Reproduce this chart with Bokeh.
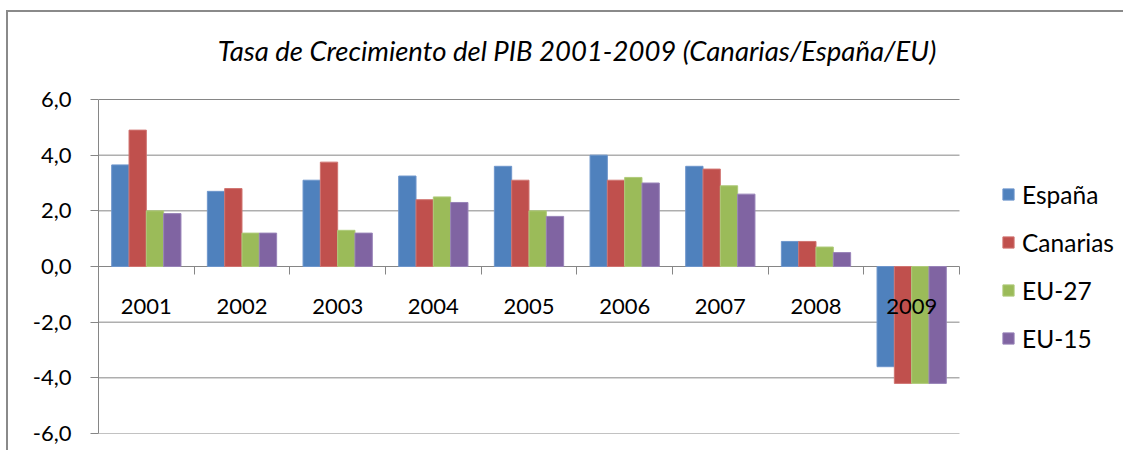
import numpy as np
from bokeh.plotting import figure
from bokeh.models import (ColumnDataSource, Range1d, FixedTicker,
                          LinearAxis, Legend, LegendItem, Label)
from bokeh.transform import dodge
from bokeh.embed import file_html
from bokeh.resources import INLINE

# ---- data ----
years = ["2001", "2002", "2003", "2004", "2005", "2006", "2007", "2008", "2009"]
series_names = ["España", "Canarias", "EU-27", "EU-15"]
espana = [3.65, 2.7, 3.1, 3.25, 3.6, 4.0, 3.6, 0.9, -3.6]
canarias = [4.9, 2.8, 3.75, 2.4, 3.1, 3.1, 3.5, 0.9, -4.2]
eu27 = [2.0, 1.2, 1.3, 2.5, 2.0, 3.2, 2.9, 0.7, -4.2]
eu15 = [1.9, 1.2, 1.2, 2.3, 1.8, 3.0, 2.6, 0.5, -4.2]
y_ticks = [-6, -4, -2, 0, 2, 4, 6]
y_tick_labels = ["-6,0", "-4,0", "-2,0", "0,0", "2,0", "4,0", "6,0"]
title_text = "Tasa de Crecimiento del PIB 2001-2009 (Canarias/España/EU)"

colors = ["#4F81BD", "#C0504D", "#9BBB59", "#8064A2"]
edge = ["#6E96CC", "#D07471", "#AFCB7A", "#9883B8"]
GRAY = "#868686"
FONT = "Lato"

n = len(years)
centers = (np.arange(n) + 0.5).tolist()          # category centres
bounds_x = list(range(n + 1))                     # category boundaries
y_lo, y_hi = y_ticks[0], y_ticks[-1]

src = ColumnDataSource(dict(xc=centers, year=years, s0=espana, s1=canarias, s2=eu27, s3=eu15))

# ---- layout geometry (pixels) ----
W, H = 1117, 440
LEFT, RIGHT, TOP, BOTTOM = 90, 0, 10, 19
frame_w = W - LEFT - RIGHT
frame_h = H - TOP - BOTTOM
plot_w_px = 861          # width occupied by the categories
plot_h_px = 334          # height occupied by the value axis
x_end = n * frame_w / plot_w_px
y_top = y_lo + (y_hi - y_lo) * frame_h / plot_h_px

p = figure(x_range=Range1d(0, x_end), y_range=Range1d(y_lo, y_top),
           width=W, height=H, output_backend="svg", toolbar_location=None,
           min_border_left=LEFT, min_border_right=RIGHT,
           min_border_top=TOP, min_border_bottom=BOTTOM)
p.outline_line_color = None
p.background_fill_color = "white"
p.border_fill_color = "white"
p.styles = {"border-left": "2px solid #8a8a8a", "border-top": "2px solid #8a8a8a",
            "margin-left": "6px", "margin-top": "10px"}
p.xgrid.visible = False
p.ygrid.visible = False

# horizontal gridlines over the category area only
p.segment(x0=[0] * len(y_ticks), x1=[n] * len(y_ticks), y0=y_ticks, y1=y_ticks,
          line_color=GRAY, line_width=1)

bw = 0.181
renderers = []
for i, col in enumerate(["s0", "s1", "s2", "s3"]):
    r = p.vbar(x=dodge("xc", (i - 1.5) * bw), top=col, bottom=0,
               width=bw, source=src, fill_color=colors[i], line_color=edge[i],
               line_width=1)
    renderers.append(r)

# y axis
p.yaxis.ticker = FixedTicker(ticks=y_ticks)
p.yaxis.bounds = (y_lo, y_hi)
p.yaxis.major_label_overrides = dict(zip(y_ticks, y_tick_labels))
p.yaxis.axis_line_color = GRAY
p.yaxis.major_tick_line_color = GRAY
p.yaxis.major_tick_out = 8
p.yaxis.major_tick_in = 0
p.yaxis.minor_tick_line_color = None
p.yaxis.major_label_text_font = FONT
p.yaxis.major_label_text_font_size = "22px"
p.yaxis.major_label_text_color = "black"
p.yaxis.major_label_standoff = 19

# category labels axis crossing at zero
p.xaxis.fixed_location = 0
p.xaxis.ticker = FixedTicker(ticks=centers)
p.xaxis.major_label_overrides = dict(zip(centers, years))
p.xaxis.bounds = (0, n)
p.xaxis.axis_line_color = None
p.xaxis.major_tick_line_color = None
p.xaxis.minor_tick_line_color = None
p.xaxis.major_tick_out = 0
p.xaxis.major_tick_in = 0
p.xaxis.major_label_standoff = 32
p.xaxis.major_label_text_font = FONT
p.xaxis.major_label_text_font_size = "22px"
p.xaxis.major_label_text_color = "black"

# boundary tick marks between categories
bticks = LinearAxis(ticker=FixedTicker(ticks=bounds_x), bounds=(0, n),
                    fixed_location=0, axis_line_color=None,
                    major_tick_line_color=GRAY, major_tick_out=8, major_tick_in=0,
                    minor_tick_line_color=None, major_label_text_alpha=0)
p.add_layout(bticks, "below")

# title
p.add_layout(Label(x=478.5, y=frame_h - 28, x_units="screen", y_units="screen",
                   text=title_text, text_font=FONT, text_font_style="italic",
                   text_font_size="27.5px", text_align="center",
                   text_baseline="middle", text_color="black"))

legend = Legend(items=[LegendItem(label=s, renderers=[r]) for s, r in zip(series_names, renderers)],
                location=(903, 80), orientation="vertical",
                glyph_width=14, glyph_height=14, label_standoff=7,
                label_height=30, spacing=18, padding=0, margin=0,
                border_line_color=None, background_fill_alpha=0,
                label_text_font=FONT, label_text_font_size="24.5px",
                label_text_color="black")
p.add_layout(legend, "center")

open("out.html", "w").write(file_html(p, INLINE))
